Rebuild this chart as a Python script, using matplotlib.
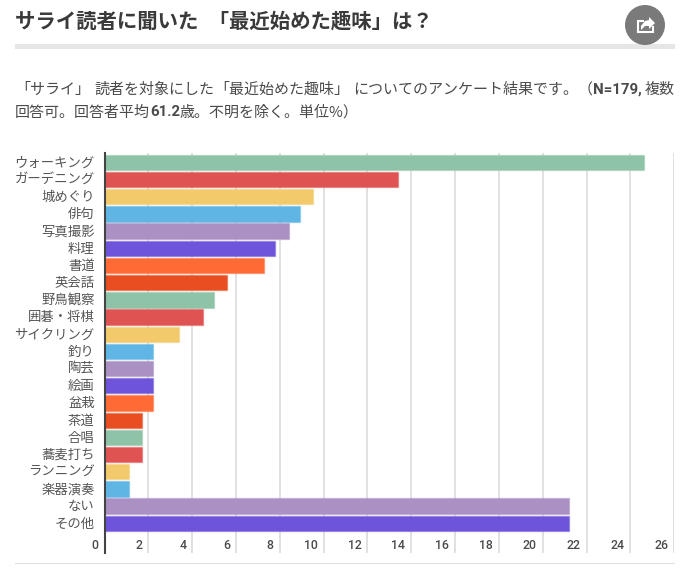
import matplotlib
matplotlib.use('Agg')
import matplotlib.pyplot as plt
from matplotlib.patches import Circle, Polygon, Rectangle
from matplotlib.transforms import ScaledTranslation

plt.rcParams['font.family'] = ['Noto Sans CJK JP', 'DejaVu Sans']

W, H = 690, 572

hobbies = ['ウォーキング', 'ガーデニング', '城めぐり', '俳句', '写真撮影', '料理', '書道',
           '英会話', '野鳥観察', '囲碁・将棋', 'サイクリング', '釣り', '陶芸', '絵画', '盆栽',
           '茶道', '合唱', '蕎麦打ち', 'ランニング', '楽器演奏', 'ない', 'その他']
percent = [24.6, 13.4, 9.5, 8.9, 8.4, 7.8, 7.3, 5.6, 5.0, 4.5, 3.4,
           2.2, 2.2, 2.2, 2.2, 1.7, 1.7, 1.7, 1.1, 1.1, 21.2, 21.2]
palette = ['#8EC3A7', '#DF5353', '#F2CA6B', '#5FB6E5', '#AB90C4', '#6D54DB', '#FF6A35', '#E84E22']
xticks = list(range(0, 27, 2))

fig = plt.figure(figsize=(W / 100, H / 100), dpi=100, facecolor='white')

# page furniture in pixel coordinates
bg = fig.add_axes([0, 0, 1, 1])
bg.set_xlim(0, W)
bg.set_ylim(H, 0)
bg.axis('off')
bg.text(15, 20.5, 'サライ読者に聞いた\u2002「最近始めた趣味」は？', fontsize=14.7, fontweight='bold',
        color='#3A3A3A', va='center', ha='left')
bg.add_patch(Rectangle((15, 44), 660, 5, fc='#E6E6E6', ec='none'))

# share button
bg.add_patch(Circle((645, 25), 20, fc='#7A7A7A', ec='none'))
bg.plot([643, 638, 638, 653, 653], [21, 21, 32, 32, 27], color='white', lw=1.5, solid_joinstyle='miter')
bg.add_patch(Polygon([(649, 17), (655, 23), (649, 29), (649, 26), (645, 26), (641, 30), (641, 26), (645, 21), (649, 20)],
                     fc='white', ec='none'))

# description, placed piece by piece because of the bold runs
desc_color = '#4A4A4A'
line1 = [(15, '「サライ」', 'normal'), (94, '読者を対象にした', 'normal'),
         (214, '「最近始めた趣味」', 'normal'), (353, 'についてのアンケート結果です。（', 'normal'),
         (593, 'N=179,', 'bold'), (644.5, '複数', 'normal')]
line2 = [(15, '回答可。回答者平均', 'normal'), (150, '61.2', 'bold'),
         (180, '歳。不明を除く。単位%）', 'normal')]
for y, line in [(89.5, line1), (112.5, line2)]:
    for x, s, w in line:
        fam = ['Roboto', 'DejaVu Sans'] if w == 'bold' else ['Noto Sans CJK JP', 'DejaVu Sans']
        bg.text(x, y, s, fontsize=10.8, fontweight=w, family=fam, color=desc_color, va='center', ha='left')

bg.add_patch(Rectangle((15, 562.5), 660, 1.2, fc='#DDDDDD', ec='none'))

ax = fig.add_axes([104.5 / W, 1 - 552.7 / H, 569.8 / W, (552.7 - 153) / H])
colors = [palette[i % len(palette)] for i in range(len(percent))]
edges = [c + '66' for c in colors]
ax.barh(range(len(percent)), percent, height=0.89, color=colors, edgecolor=edges, linewidth=1, zorder=3)
ax.set_xlim(0, 26)
ax.set_ylim(22.71, -0.544)

ax.set_yticks(range(len(hobbies)))
ax.set_yticklabels(hobbies, fontsize=9.6, color='#555555')
ax.tick_params(axis='y', length=0, pad=7)
up = ScaledTranslation(0, 1.2 / 100, fig.dpi_scale_trans)
for label in ax.get_yticklabels():
    label.set_transform(label.get_transform() + up)

ax.set_xticks(xticks)
ax.set_xticklabels(xticks, fontsize=8.8, color='#4A4A4A', family='Roboto', fontweight='medium', ha='right')
ax.tick_params(axis='x', length=0, pad=-10)
shift = ScaledTranslation(-6 / 100, 0, fig.dpi_scale_trans)
for label in ax.get_xticklabels():
    label.set_transform(label.get_transform() + shift)

ax.grid(axis='x', color='#D8D8D8', linewidth=1.1, zorder=0)
for side in ['top', 'right', 'bottom']:
    ax.spines[side].set_visible(False)
ax.spines['left'].set_color('#444444')
ax.spines['left'].set_linewidth(1.5)
ax.spines['left'].set_zorder(5)
ax.patch.set_alpha(0)

fig.savefig('out.png', dpi=100)
